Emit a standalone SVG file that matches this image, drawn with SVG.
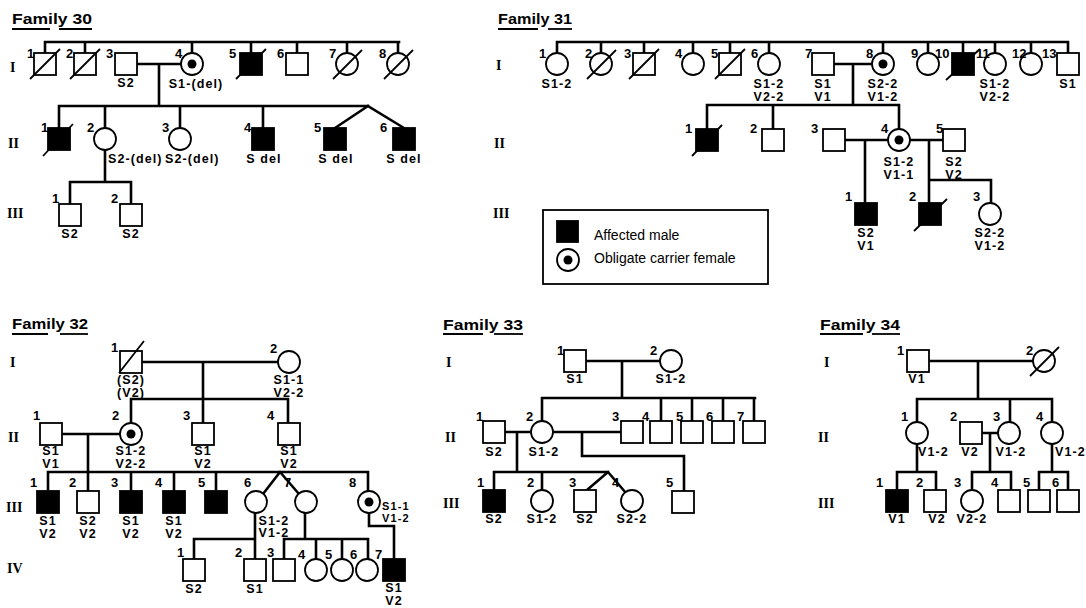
<svg xmlns="http://www.w3.org/2000/svg" width="1086" height="608" viewBox="0 0 1086 608">
<style>
.l{stroke:#000;stroke-width:2.6;fill:none;stroke-linecap:square;stroke-linejoin:miter}
.s{fill:#fff;stroke:#000;stroke-width:1.8}
.a{fill:#000;stroke:#000;stroke-width:1.8}
.d{fill:#000}
.x{stroke:#000;stroke-width:1.8}
.u{stroke:#000;stroke-width:1.8}
text{font-family:"Liberation Sans",Arial,sans-serif;fill:#000}
.n{font-size:13px;font-weight:bold}
.t{font-size:12.5px;font-weight:bold;letter-spacing:1.1px}
.sm{font-size:11px}
.m{text-anchor:middle}
.g{font-family:"Liberation Serif","Times New Roman",serif;font-size:14px;font-weight:bold}
.h{font-size:15px;font-weight:bold}
.k{font-size:14px}
</style>
<rect width="1086" height="608" fill="#fff"/>

<g id="connectors">
<path class="l" d="M45,42H399M45,42V53M85,42V53M192,42V53M251,42V53M297,42V53M347,42V53M398,42V53M137,64H181M159,64V106M59,106H368M368,106L335,128M368,106L404,128M59,106V128M105,106V128M180,106V128M263,106V128M105,150V182M70,182H131M70,182V204M131,182V204"/>
<path class="l" d="M557,42H1068M557,42V53M601,42V53M644,42V53M693,42V53M730,42V53M769,42V53M883,42V53M928,42V53M963,42V53M995,42V53M1031,42V53M1068,42V53M834,64H872M853,64V105M707,105H899M707,105V129M773,105V129M899,105V129M845,140H888M865,140V203M910,140H943M929,140V203M929,180H991V203"/>
<path class="l" d="M142,362H278M203,362V423M131,399H288M131,399V423M288,399V423M62,434H120M88,434V491M48,472H368M48,472V491M131,472V491M174,472V491M216,472V491M368,472V491M280,472L263,494M280,472L299,494M255,513V559M194,539H255M194,539V559M305,513V539M284,539H368M284,539V559M316,539V559M342,539V559M368,539V559M369,513V526H394V559"/>
<path class="l" d="M586,361H660M622,361V398M542,398H755M542,398V421M661,398V421M692,398V421M723,398V421M754,398V421M505,432H531M517,432V472M553,432H621M582,432V456H684V491M494,472H608M494,472V490M542,472V490M608,472L587,490M608,472L626,493"/>
<path class="l" d="M929,361H1033M978,361V399M917,399H1052M917,399V422M1010,399V422M1052,399V422M917,444V472M897,472H936M897,472V490M936,472V490M982,433H998M990,433V472M972,472H1011M972,472V490M1011,472V490M1052,444V472M1039,472H1068M1039,472V490M1068,472V490"/>
</g>

<!-- Family 30 -->
<g id="f30-title"><text class="h" x="12" y="24" textLength="80" lengthAdjust="spacingAndGlyphs">Family 30</text><line class="u" x1="12" y1="29" x2="50" y2="29"/><line class="u" x1="59" y1="29" x2="92" y2="29"/></g>
<g id="f30-gen"><text class="g" x="10" y="72">I</text><text class="g" x="8" y="148">II</text><text class="g" x="7" y="218">III</text></g>
<g id="f30-I1"><rect class="s" x="34" y="53" width="22" height="22"/><line class="x" x1="30" y1="79" x2="60" y2="49"/><text class="n" x="27" y="58">1</text></g>
<g id="f30-I2"><rect class="s" x="74" y="53" width="22" height="22"/><line class="x" x1="70" y1="79" x2="100" y2="49"/><text class="n" x="66" y="58">2</text></g>
<g id="f30-I3"><rect class="s" x="115" y="53" width="22" height="22"/><text class="n" x="106" y="58">3</text><text class="t m" x="126" y="87">S2</text></g>
<g id="f30-I4"><circle class="s" cx="192" cy="64" r="11"/><circle class="d" cx="192" cy="64" r="4.5"/><text class="n" x="175" y="58">4</text><text class="t m" x="196" y="88">S1-(del)</text></g>
<g id="f30-I5"><rect class="a" x="240" y="53" width="22" height="22"/><line class="x" x1="236" y1="79" x2="266" y2="49"/><text class="n" x="229" y="58">5</text></g>
<g id="f30-I6"><rect class="s" x="286" y="53" width="22" height="22"/><text class="n" x="277" y="58">6</text></g>
<g id="f30-I7"><circle class="s" cx="347" cy="64" r="11"/><line class="x" x1="333" y1="79" x2="362" y2="50"/><text class="n" x="329" y="58">7</text></g>
<g id="f30-I8"><circle class="s" cx="398" cy="64" r="11"/><line class="x" x1="384" y1="79" x2="413" y2="50"/><text class="n" x="379" y="58">8</text></g>
<g id="f30-II1"><rect class="a" x="48" y="128" width="22" height="22"/><line class="x" x1="43" y1="156" x2="73" y2="124"/><text class="n" x="41" y="132">1</text></g>
<g id="f30-II2"><circle class="s" cx="105" cy="139" r="11"/><text class="n" x="87" y="132">2</text><text class="t" x="108" y="163">S2-(del)</text></g>
<g id="f30-II3"><circle class="s" cx="180" cy="139" r="11"/><text class="n" x="162" y="132">3</text><text class="t" x="165" y="163">S2-(del)</text></g>
<g id="f30-II4"><rect class="a" x="252" y="128" width="22" height="22"/><text class="n" x="244" y="132">4</text><text class="t m" x="264" y="163">S del</text></g>
<g id="f30-II5"><rect class="a" x="324" y="128" width="22" height="22"/><text class="n" x="314" y="132">5</text><text class="t m" x="336" y="163">S del</text></g>
<g id="f30-II6"><rect class="a" x="393" y="128" width="22" height="22"/><text class="n" x="380" y="132">6</text><text class="t m" x="404" y="163">S del</text></g>
<g id="f30-III1"><rect class="s" x="59" y="204" width="22" height="22"/><text class="n" x="52" y="203">1</text><text class="t m" x="70" y="238">S2</text></g>
<g id="f30-III2"><rect class="s" x="120" y="204" width="22" height="22"/><text class="n" x="111" y="203">2</text><text class="t m" x="131" y="238">S2</text></g>

<!-- Family 31 -->
<g id="f31-title"><text class="h" x="498" y="24" textLength="74" lengthAdjust="spacingAndGlyphs">Family 31</text><line class="u" x1="498" y1="29" x2="538" y2="29"/><line class="u" x1="548" y1="29" x2="572" y2="29"/></g>
<g id="f31-gen"><text class="g" x="496" y="70">I</text><text class="g" x="494" y="148">II</text><text class="g" x="493" y="218">III</text></g>
<g id="f31-I1"><circle class="s" cx="557" cy="64" r="11"/><text class="n" x="539" y="58">1</text><text class="t m" x="557" y="88">S1-2</text></g>
<g id="f31-I2"><circle class="s" cx="601" cy="64" r="11"/><line class="x" x1="587" y1="79" x2="616" y2="50"/><text class="n" x="585" y="58">2</text></g>
<g id="f31-I3"><rect class="s" x="633" y="53" width="22" height="22"/><line class="x" x1="629" y1="79" x2="659" y2="49"/><text class="n" x="624" y="58">3</text></g>
<g id="f31-I4"><circle class="s" cx="693" cy="64" r="11"/><text class="n" x="675" y="58">4</text></g>
<g id="f31-I5"><rect class="s" x="719" y="53" width="22" height="22"/><line class="x" x1="715" y1="79" x2="745" y2="49"/><text class="n" x="711" y="58">5</text></g>
<g id="f31-I6"><circle class="s" cx="769" cy="64" r="11"/><text class="n" x="751" y="58">6</text><text class="t m" x="769" y="88">S1-2</text><text class="t m" x="769" y="101">V2-2</text></g>
<g id="f31-I7"><rect class="s" x="812" y="53" width="22" height="22"/><text class="n" x="805" y="58">7</text><text class="t m" x="823" y="88">S1</text><text class="t m" x="823" y="101">V1</text></g>
<g id="f31-I8"><circle class="s" cx="883" cy="64" r="11"/><circle class="d" cx="883" cy="64" r="4.5"/><text class="n" x="866" y="58">8</text><text class="t m" x="883" y="88">S2-2</text><text class="t m" x="883" y="101">V1-2</text></g>
<g id="f31-I9"><circle class="s" cx="928" cy="64" r="11"/><text class="n" x="911" y="58">9</text></g>
<g id="f31-I10"><rect class="a" x="952" y="53" width="22" height="22"/><line class="x" x1="946" y1="80" x2="980" y2="49"/><text class="n" x="935" y="58">10</text></g>
<g id="f31-I11"><circle class="s" cx="995" cy="64" r="11"/><text class="n" x="976" y="58">11</text><text class="t m" x="995" y="88">S1-2</text><text class="t m" x="995" y="101">V2-2</text></g>
<g id="f31-I12"><circle class="s" cx="1031" cy="64" r="11"/><text class="n" x="1012" y="58">12</text></g>
<g id="f31-I13"><rect class="s" x="1057" y="53" width="22" height="22"/><text class="n" x="1042" y="58">13</text><text class="t m" x="1068" y="88">S1</text></g>
<g id="f31-II1"><rect class="a" x="696" y="129" width="22" height="22"/><line class="x" x1="692" y1="156" x2="722" y2="125"/><text class="n" x="685" y="133">1</text></g>
<g id="f31-II2"><rect class="s" x="762" y="129" width="22" height="22"/><text class="n" x="750" y="133">2</text></g>
<g id="f31-II3"><rect class="s" x="823" y="129" width="22" height="22"/><text class="n" x="811" y="133">3</text></g>
<g id="f31-II4"><circle class="s" cx="899" cy="140" r="11"/><circle class="d" cx="899" cy="140" r="4.5"/><text class="n" x="881" y="133">4</text><text class="t m" x="899" y="166">S1-2</text><text class="t m" x="899" y="179">V1-1</text></g>
<g id="f31-II5"><rect class="s" x="943" y="129" width="22" height="22"/><text class="n" x="936" y="133">5</text><text class="t m" x="954" y="166">S2</text><text class="t m" x="954" y="179">V2</text></g>
<g id="f31-III1"><rect class="a" x="855" y="203" width="22" height="22"/><text class="n" x="845" y="201">1</text><text class="t m" x="866" y="237">S2</text><text class="t m" x="866" y="250">V1</text></g>
<g id="f31-III2"><rect class="a" x="919" y="203" width="22" height="22"/><line class="x" x1="914" y1="231" x2="947" y2="199"/><text class="n" x="909" y="201">2</text></g>
<g id="f31-III3"><circle class="s" cx="990" cy="214" r="11"/><text class="n" x="973" y="201">3</text><text class="t m" x="990" y="237">S2-2</text><text class="t m" x="990" y="250">V1-2</text></g>
<g id="legend"><rect x="543" y="210" width="225" height="74" fill="#fff" stroke="#000" stroke-width="1.8"/><rect class="a" x="557" y="221" width="21" height="21"/><text class="k" x="594" y="240">Affected male</text><circle class="s" cx="568" cy="260" r="11"/><circle class="d" cx="568" cy="260" r="4.5"/><text class="k" x="594" y="263">Obligate carrier female</text></g>

<!-- Family 32 -->
<g id="f32-title"><text class="h" x="12" y="329" textLength="76" lengthAdjust="spacingAndGlyphs">Family 32</text><line class="u" x1="12" y1="334" x2="48" y2="334"/><line class="u" x1="60" y1="334" x2="88" y2="334"/></g>
<g id="f32-gen"><text class="g" x="10" y="367">I</text><text class="g" x="8" y="442">II</text><text class="g" x="6" y="512">III</text><text class="g" x="7" y="573">IV</text></g>
<g id="f32-I1"><rect class="s" x="120" y="351" width="22" height="22"/><line class="x" x1="119" y1="373" x2="144" y2="341"/><text class="n" x="111" y="352">1</text><text class="t m" x="131" y="384">(S2)</text><text class="t m" x="131" y="397">(V2)</text></g>
<g id="f32-I2"><circle class="s" cx="289" cy="362" r="11"/><text class="n" x="270" y="353">2</text><text class="t m" x="289" y="384">S1-1</text><text class="t m" x="289" y="397">V2-2</text></g>
<g id="f32-II1"><rect class="s" x="40" y="423" width="22" height="22"/><text class="n" x="33" y="420">1</text><text class="t m" x="51" y="455">S1</text><text class="t m" x="51" y="468">V1</text></g>
<g id="f32-II2"><circle class="s" cx="131" cy="434" r="11"/><circle class="d" cx="131" cy="434" r="4.5"/><text class="n" x="112" y="420">2</text><text class="t m" x="131" y="455">S1-2</text><text class="t m" x="131" y="468">V2-2</text></g>
<g id="f32-II3"><rect class="s" x="192" y="423" width="22" height="22"/><text class="n" x="183" y="420">3</text><text class="t m" x="203" y="455">S1</text><text class="t m" x="203" y="468">V2</text></g>
<g id="f32-II4"><rect class="s" x="278" y="423" width="22" height="22"/><text class="n" x="267" y="420">4</text><text class="t m" x="289" y="455">S1</text><text class="t m" x="289" y="468">V2</text></g>
<g id="f32-III1"><rect class="a" x="37" y="491" width="22" height="22"/><text class="n" x="30" y="487">1</text><text class="t m" x="48" y="525">S1</text><text class="t m" x="48" y="538">V2</text></g>
<g id="f32-III2"><rect class="s" x="77" y="491" width="22" height="22"/><text class="n" x="69" y="487">2</text><text class="t m" x="88" y="525">S2</text><text class="t m" x="88" y="538">V2</text></g>
<g id="f32-III3"><rect class="a" x="120" y="491" width="22" height="22"/><text class="n" x="111" y="487">3</text><text class="t m" x="131" y="525">S1</text><text class="t m" x="131" y="538">V2</text></g>
<g id="f32-III4"><rect class="a" x="163" y="491" width="22" height="22"/><text class="n" x="155" y="487">4</text><text class="t m" x="174" y="525">S1</text><text class="t m" x="174" y="538">V2</text></g>
<g id="f32-III5"><rect class="a" x="205" y="491" width="22" height="22"/><text class="n" x="198" y="487">5</text></g>
<g id="f32-III6"><circle class="s" cx="256" cy="502" r="11"/><text class="n" x="244" y="487">6</text><text class="t m" x="274" y="525">S1-2</text><text class="t m" x="274" y="537">V1-2</text></g>
<g id="f32-III7"><circle class="s" cx="306" cy="502" r="11"/><text class="n" x="284" y="487">7</text></g>
<g id="f32-III8"><circle class="s" cx="369" cy="502" r="11"/><circle class="d" cx="369" cy="502" r="4.5"/><text class="n" x="349" y="487">8</text><text class="t sm" x="382" y="510">S1-1</text><text class="t sm" x="382" y="522">V1-2</text></g>
<g id="f32-IV1"><rect class="s" x="183" y="559" width="22" height="22"/><text class="n" x="177" y="557">1</text><text class="t m" x="194" y="593">S2</text></g>
<g id="f32-IV2"><rect class="s" x="244" y="559" width="22" height="22"/><text class="n" x="235" y="557">2</text><text class="t m" x="255" y="593">S1</text></g>
<g id="f32-IV3"><rect class="s" x="273" y="559" width="22" height="22"/><text class="n" x="267" y="557">3</text></g>
<g id="f32-IV4"><circle class="s" cx="316" cy="570" r="11"/><text class="n" x="298" y="559">4</text></g>
<g id="f32-IV5"><circle class="s" cx="342" cy="570" r="11"/><text class="n" x="325" y="559">5</text></g>
<g id="f32-IV6"><circle class="s" cx="367" cy="570" r="11"/><text class="n" x="350" y="559">6</text></g>
<g id="f32-IV7"><rect class="a" x="383" y="559" width="22" height="22"/><text class="n" x="375" y="559">7</text><text class="t m" x="394" y="592">S1</text><text class="t m" x="394" y="605">V2</text></g>

<!-- Family 33 -->
<g id="f33-title"><text class="h" x="443" y="330" textLength="80" lengthAdjust="spacingAndGlyphs">Family 33</text><line class="u" x1="443" y1="334" x2="483" y2="334"/><line class="u" x1="494" y1="334" x2="523" y2="334"/></g>
<g id="f33-gen"><text class="g" x="446" y="367">I</text><text class="g" x="445" y="442">II</text><text class="g" x="443" y="508">III</text></g>
<g id="f33-I1"><rect class="s" x="564" y="350" width="22" height="22"/><text class="n" x="557" y="355">1</text><text class="t m" x="575" y="383">S1</text></g>
<g id="f33-I2"><circle class="s" cx="671" cy="361" r="11"/><text class="n" x="650" y="355">2</text><text class="t m" x="671" y="383">S1-2</text></g>
<g id="f33-II1"><rect class="s" x="483" y="421" width="22" height="22"/><text class="n" x="476" y="421">1</text><text class="t m" x="494" y="456">S2</text></g>
<g id="f33-II2"><circle class="s" cx="542" cy="432" r="11"/><text class="n" x="526" y="421">2</text><text class="t m" x="544" y="456">S1-2</text></g>
<g id="f33-II3"><rect class="s" x="621" y="421" width="22" height="22"/><text class="n" x="612" y="421">3</text></g>
<g id="f33-II4"><rect class="s" x="650" y="421" width="22" height="22"/><text class="n" x="642" y="421">4</text></g>
<g id="f33-II5"><rect class="s" x="681" y="421" width="22" height="22"/><text class="n" x="676" y="421">5</text></g>
<g id="f33-II6"><rect class="s" x="712" y="421" width="22" height="22"/><text class="n" x="706" y="421">6</text></g>
<g id="f33-II7"><rect class="s" x="743" y="421" width="22" height="22"/><text class="n" x="737" y="421">7</text></g>
<g id="f33-III1"><rect class="a" x="483" y="490" width="22" height="22"/><text class="n" x="477" y="487">1</text><text class="t m" x="494" y="523">S2</text></g>
<g id="f33-III2"><circle class="s" cx="542" cy="501" r="11"/><text class="n" x="527" y="487">2</text><text class="t m" x="542" y="523">S1-2</text></g>
<g id="f33-III3"><rect class="s" x="574" y="490" width="22" height="22"/><text class="n" x="569" y="487">3</text><text class="t m" x="585" y="523">S2</text></g>
<g id="f33-III4"><circle class="s" cx="632" cy="501" r="11"/><text class="n" x="612" y="487">4</text><text class="t m" x="632" y="523">S2-2</text></g>
<g id="f33-III5"><rect class="s" x="672" y="491" width="22" height="22"/><text class="n" x="666" y="487">5</text></g>

<!-- Family 34 -->
<g id="f34-title"><text class="h" x="820" y="330" textLength="80" lengthAdjust="spacingAndGlyphs">Family 34</text><line class="u" x1="820" y1="334" x2="863" y2="334"/><line class="u" x1="872" y1="334" x2="900" y2="334"/></g>
<g id="f34-gen"><text class="g" x="824" y="367">I</text><text class="g" x="818" y="442">II</text><text class="g" x="818" y="508">III</text></g>
<g id="f34-I1"><rect class="s" x="907" y="350" width="22" height="22"/><text class="n" x="897" y="355">1</text><text class="t m" x="917" y="383">V1</text></g>
<g id="f34-I2"><circle class="s" cx="1044" cy="361" r="11"/><line class="x" x1="1030" y1="376" x2="1059" y2="347"/><text class="n" x="1026" y="355">2</text></g>
<g id="f34-II1"><circle class="s" cx="917" cy="433" r="11"/><text class="n" x="901" y="421">1</text><text class="t" x="918" y="456">V1-2</text></g>
<g id="f34-II2"><rect class="s" x="960" y="422" width="22" height="22"/><text class="n" x="950" y="421">2</text><text class="t m" x="970" y="456">V2</text></g>
<g id="f34-II3"><circle class="s" cx="1009" cy="433" r="11"/><text class="n" x="993" y="421">3</text><text class="t m" x="1011" y="456">V1-2</text></g>
<g id="f34-II4"><circle class="s" cx="1052" cy="433" r="11"/><text class="n" x="1036" y="421">4</text><text class="t" x="1055" y="456">V1-2</text></g>
<g id="f34-III1"><rect class="a" x="886" y="490" width="22" height="22"/><text class="n" x="876" y="487">1</text><text class="t m" x="897" y="523">V1</text></g>
<g id="f34-III2"><rect class="s" x="924" y="490" width="22" height="22"/><text class="n" x="916" y="487">2</text><text class="t m" x="937" y="523">V2</text></g>
<g id="f34-III3"><circle class="s" cx="972" cy="501" r="11"/><text class="n" x="954" y="487">3</text><text class="t m" x="972" y="523">V2-2</text></g>
<g id="f34-III4"><rect class="s" x="998" y="490" width="22" height="22"/><text class="n" x="991" y="487">4</text></g>
<g id="f34-III5"><rect class="s" x="1028" y="490" width="22" height="22"/><text class="n" x="1023" y="487">5</text></g>
<g id="f34-III6"><rect class="s" x="1057" y="490" width="22" height="22"/><text class="n" x="1052" y="487">6</text></g>
</svg>
